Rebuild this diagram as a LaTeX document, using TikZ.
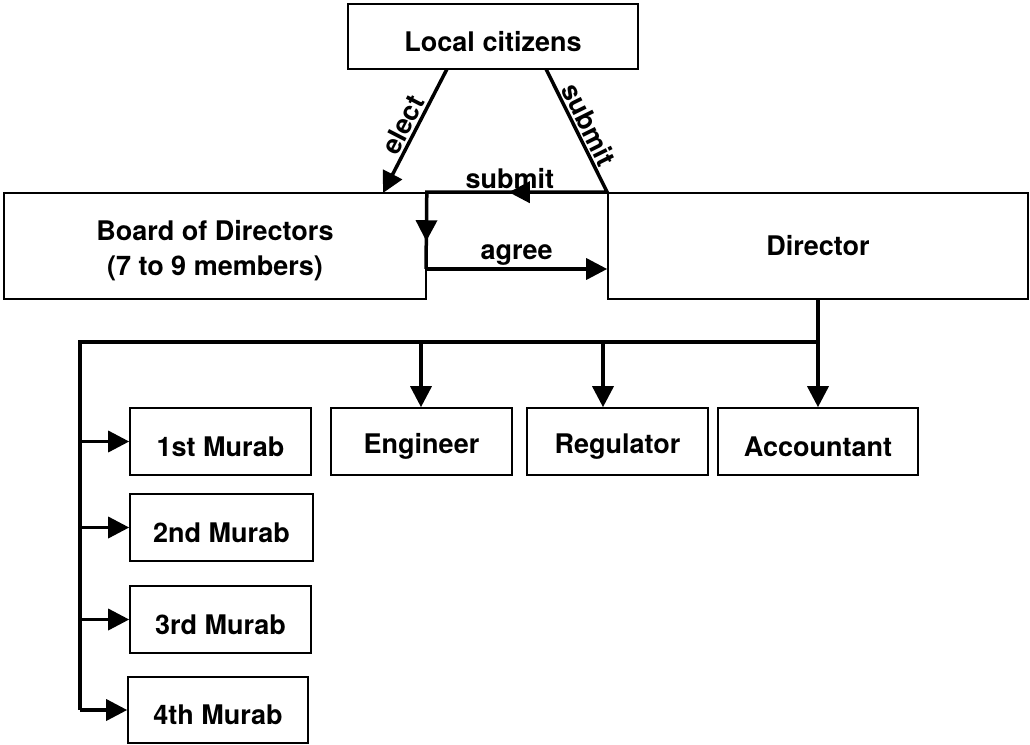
\documentclass[tikz,border=0pt]{standalone}
\usepackage{fontspec}
\setmainfont{TeX Gyre Heros}
\usetikzlibrary{arrows.meta,decorations.markings}
\newcommand\lowr[1]{\raisebox{-5pt}[\height][\depth]{#1}}
\begin{document}
\begin{tikzpicture}[x=1pt,y=-1pt,
  box/.style={draw, line width=1.6pt, rectangle, inner sep=0pt, font=\fontsize{27}{35}\selectfont\bfseries, align=center},
  thickline/.style={line width=3.5pt, line join=miter},
  tip/.tip={Triangle[length=21pt,width=21pt]},
  conn/.style={thickline, -tip},
  lab/.style={font=\fontsize{27}{34}\selectfont\bfseries, inner sep=2pt}
]
\useasboundingbox (0,0) rectangle (1030,744);

% boxes
\node[box, minimum width=290pt, minimum height=65pt] (cit) at (493,36.5) {\lowr{Local citizens}};
\node[box, minimum width=422pt, minimum height=106pt] (board) at (215,246) {\lowr{Board of Directors}\\\lowr{(7 to 9 members)}};
\node[box, minimum width=420pt, minimum height=106pt] (dir) at (818,246) {Director};

\node[box, minimum width=181pt, minimum height=67pt] (m1) at (220.5,441.5) {\lowr{1st Murab}};
\node[box, minimum width=183pt, minimum height=67pt] (m2) at (221.5,527.5) {\lowr{2nd Murab}};
\node[box, minimum width=181pt, minimum height=67pt] (m3) at (220.5,619.5) {\lowr{3rd Murab}};
\node[box, minimum width=180pt, minimum height=66pt] (m4) at (218,710) {\lowr{4th Murab}};
\node[box, minimum width=181pt, minimum height=67pt] (eng) at (421.5,441.5) {\lowr{Engineer}};
\node[box, minimum width=181pt, minimum height=67pt] (reg) at (617.5,441.5) {\lowr{Regulator}};
\node[box, minimum width=200pt, minimum height=67pt] (acc) at (818,441.5) {\lowr{Accountant}};

% top connectors
\coordinate (e1) at (447,69);
\coordinate (e2) at (383,193);
\draw[conn] (e1) -- node[lab, sloped, above] {elect} (e2);

\coordinate (s1) at (546,69);
\coordinate (ag) at (426,269);
\draw[thickline,
  postaction={decorate},
  decoration={markings,
    mark=at position 236pt with {\arrow{tip}},
    mark=at position 367pt with {\arrow{tip}}}]
  (s1) -- node[lab, sloped, above] {submit} (dir.north west)
       -- node[lab, above, pos=0.54] {submit} (board.north east) -- (ag);
\draw[conn] (ag) -- node[lab, above] {agree} (ag -| dir.west);

% lower bus
\coordinate (bus) at (818,342);
\coordinate (bl) at (80,342);
\coordinate (ea) at (421,342);
\coordinate (ra) at (603,342);
\draw[conn] (dir.south) -- (acc.north);
\draw[thickline] (bus) -- (bl) -- (bl |- m4.west);
\draw[conn] (ea) -- (ea |- eng.north);
\draw[conn] (ra) -- (ra |- reg.north);
\draw[conn] (bl |- m1.west) -- (m1.west);
\draw[conn] (bl |- m2.west) -- (m2.west);
\draw[conn] (bl |- m3.west) -- (m3.west);
\draw[conn] (bl |- m4.west) -- (m4.west);
\end{tikzpicture}
\end{document}
